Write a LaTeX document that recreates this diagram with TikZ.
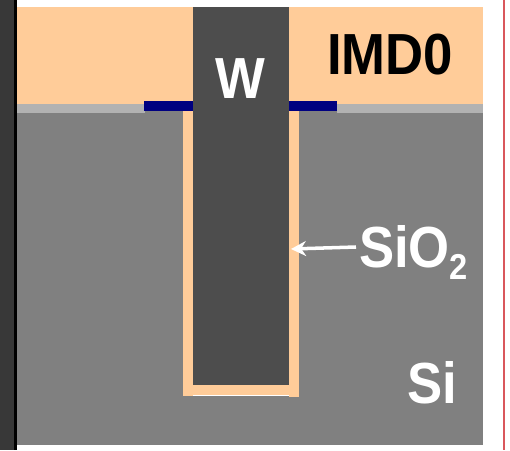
\documentclass[tikz,border=0pt]{standalone}
\usepackage{fontspec}
\setmainfont{Liberation Sans}
\usetikzlibrary{arrows.meta}
\definecolor{imdpeach}{HTML}{FFCC99}
\definecolor{siliconGray}{HTML}{808080}
\definecolor{tungstenGray}{HTML}{4D4D4D}
\definecolor{capGray}{HTML}{B2B2B2}
\definecolor{barrierBlue}{HTML}{000080}
\definecolor{stripDark}{HTML}{383838}
\definecolor{edgeRed}{HTML}{D9575C}
\tikzset{
    layerlabel/.style={font=\bfseries, inner sep=0pt, text=white, xscale=3, yscale=3.3, anchor=base}
}

\begin{document}
\begin{tikzpicture}[x=0.02cm, y=-0.02cm]
        \useasboundingbox (0, 0) rectangle (510, 450);

        \fill[stripDark] (0, 0) rectangle (14, 450);
        \fill[black] (14, 0) rectangle (17, 450);
        \fill[edgeRed] (502.5, 0) rectangle (505, 450);

        \fill[imdpeach] (17, 7) rectangle (483, 104);
        \fill[siliconGray] (17, 111) rectangle (483, 445);
        \fill[capGray] (17, 104) rectangle (145, 113);
        \fill[capGray] (337, 104) rectangle (483, 113);
        \fill[imdpeach] (145, 100) rectangle (337, 104);

        \fill[white] (193, 395) rectangle (289, 396);
        \fill[imdpeach] (183, 111) rectangle (193, 396);
        \fill[imdpeach] (289, 111) rectangle (299, 397);
        \fill[imdpeach] (193, 385) rectangle (289, 395);
        \fill[tungstenGray] (193, 7) rectangle (289, 385);

        \fill[barrierBlue] (144, 101) rectangle (193, 111);
        \fill[barrierBlue] (289, 101) rectangle (337, 111);

        \node[layerlabel] (w) at (240, 98) {W};
        \node[layerlabel, text=black] (imd) at (390, 74) {IMD0};
        \node[layerlabel, anchor=base west] (sio) at (358, 267) {SiO\raisebox{-2.2pt}{\fontsize{6.2}{7}\selectfont 2}};
        \node[layerlabel] (si) at (432, 403) {Si};

        \coordinate (tail) at (356, 247);
        \coordinate (liner) at (291, 249);
        \draw[line width=2pt, white, -{Stealth[length=0.3cm, width=0.3cm]}] (tail) -- (liner);
    \end{tikzpicture}
\end{document}
